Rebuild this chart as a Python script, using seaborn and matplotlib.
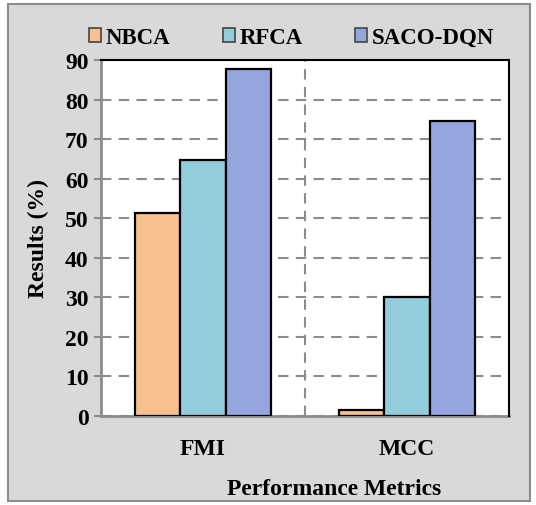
import pandas as pd
import seaborn as sns
import matplotlib.pyplot as plt
from matplotlib.patches import Patch, Rectangle

# data
metrics = ["FMI", "MCC"]
methods = ["NBCA", "RFCA", "SACO-DQN"]
nbca = [51.3, 1.5]
rfca = [64.7, 30.0]
saco = [87.6, 74.6]
colors = ["#f9c08f", "#93cddd", "#95a5dd"]

df = pd.DataFrame({
    "metric": metrics * 3,
    "method": [m for m in methods for _ in metrics],
    "value": nbca + rfca + saco,
})

sns.set_theme(style="white")
plt.rcParams["font.family"] = ["Liberation Serif", "DejaVu Serif"]
plt.rcParams["font.weight"] = "bold"
plt.rcParams["text.color"] = "black"
plt.rcParams["axes.labelcolor"] = "black"
plt.rcParams["xtick.color"] = "black"
plt.rcParams["ytick.color"] = "black"

fig = plt.figure(figsize=(5.36, 5.06), dpi=100)
fig.patch.set_facecolor("white")
# grey chart area with border
fig.patches.append(Rectangle((8 / 536, 4 / 506), 522 / 536, 497 / 506,
                             transform=fig.transFigure, facecolor="#d9d9d9",
                             edgecolor="#8c8c8c", linewidth=1.5, zorder=-10))

ax = fig.add_axes([101 / 536, 1 - 417 / 506, 408 / 536, 356 / 506])
ax.set_facecolor("white")

sns.barplot(data=df, x="metric", y="value", hue="method", palette=colors,
            saturation=1, width=0.667, gap=0, edgecolor="black", linewidth=1.6,
            legend=False, ax=ax, zorder=3)

ax.set_ylim(0, 90)
ax.set_xlim(-0.5, 1.5)
ax.set_yticks(range(0, 91, 10))
dash = (0, (5, 3.5))
ax.yaxis.grid(True, linestyle=dash, color="#8c8c8c", linewidth=1.5)
ax.axvline(0.5, linestyle=dash, color="#8c8c8c", linewidth=1.5, zorder=1)
ax.set_axisbelow(True)

for s in ["left", "bottom"]:
    ax.spines[s].set_color("#8c8c8c")
    ax.spines[s].set_linewidth(2)
for s in ["top", "right"]:
    ax.spines[s].set_color("black")
    ax.spines[s].set_linewidth(1.5)
    ax.spines[s].set_zorder(5)

ax.tick_params(axis="y", left=True, length=5, width=1.5, color="#8c8c8c",
               labelcolor="black", pad=4, labelsize=17)
ax.tick_params(axis="x", bottom=False, pad=10, labelsize=17,
               labelcolor="black")
for lab in ax.get_xticklabels() + ax.get_yticklabels():
    lab.set_fontweight("bold")

ax.set_ylabel("Results (%)", fontsize=17, fontweight="bold")
ax.yaxis.set_label_coords(-0.127, 0.5)
ax.set_xlabel("Performance Metrics", fontsize=17, fontweight="bold")
ax.xaxis.set_label_coords(0.571, -0.175)

handles = [Patch(facecolor=c, edgecolor="#444444", linewidth=1.2) for c in colors]
fig.legend(handles, methods, loc="center", bbox_to_anchor=(0.544, 0.9235),
           ncol=3, frameon=False, handlelength=0.52,
           handleheight=0.52, handletextpad=0.2, columnspacing=2.3,
           prop={"weight": "bold", "size": 16.5})

fig.savefig("out.png", dpi=100)
